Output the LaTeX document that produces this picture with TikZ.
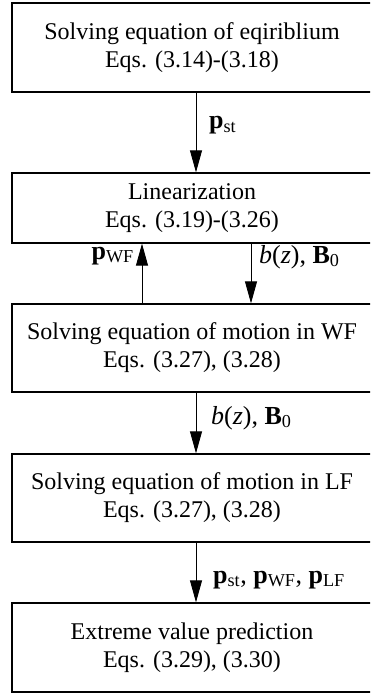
\documentclass[tikz,border=0pt]{standalone}
\usepackage{fontspec}
\setmainfont{Liberation Serif}
\usetikzlibrary{arrows.meta}
\begin{document}
\begin{tikzpicture}[x=1bp,y=-1bp,
  box/.style={draw, line width=1.3bp, inner sep=0pt, minimum width=360bp, align=center,
    font=\fontsize{24bp}{28bp}\selectfont},
  arr/.style={line width=0.9bp, -{Triangle[length=22bp,width=12bp]}},
  lbl/.style={inner sep=0pt, font=\fontsize{26bp}{30bp}\selectfont}]
\useasboundingbox (0,0) rectangle (370,695);
\clip (0,0) rectangle (370,695);
\fill[white] (0,0) rectangle (370,695);
\node[box, minimum height=89bp] (b1) at (192,47.5) {Solving equation of eqiriblium\\Eqs. (3.14)-(3.18)};
\node[box, minimum height=70bp] (b2) at (192,208) {Linearization\\Eqs. (3.19)-(3.26)};
\node[box, minimum height=88bp] (b3) at (192,348) {Solving equation of motion in WF\\Eqs. (3.27), (3.28)};
\node[box, minimum height=88bp] (b4) at (192,498) {Solving equation of motion in LF\\Eqs. (3.27), (3.28)};
\node[box, minimum height=89bp] (b5) at (192,647.5) {Extreme value prediction\\Eqs. (3.29), (3.30)};
\coordinate (ca) at (196,0);
\coordinate (cu) at (142,0);
\coordinate (cd) at (251,0);
\draw[arr] (b1.south -| ca) -- (b2.north -| ca);
\draw[arr] (b3.north -| cu) -- (b2.south -| cu);
\draw[arr] (b2.south -| cd) -- (b3.north -| cd);
\draw[arr] (b3.south -| ca) -- (b4.north -| ca);
\draw[arr] (b4.south -| ca) -- (b5.north -| ca);
\node[lbl, anchor=base west] (l1) at (209,129) {\textbf{p}\textsubscript{st}};
\node[lbl, anchor=base east] (l2) at (134,259) {\textbf{p}\textsubscript{WF}};
\node[lbl, anchor=base west] (l3) at (259,263) {\textit{b}(\textit{z}), \textbf{B}\textsubscript{0}};
\node[lbl, anchor=base west] (l4) at (211,424) {\textit{b}(\textit{z}), \textbf{B}\textsubscript{0}};
\node[lbl, anchor=base west] (l5) at (213,583) {\textbf{p}\textsubscript{st}, \textbf{p}\textsubscript{WF}, \textbf{p}\textsubscript{LF}};
\end{tikzpicture}
\end{document}
